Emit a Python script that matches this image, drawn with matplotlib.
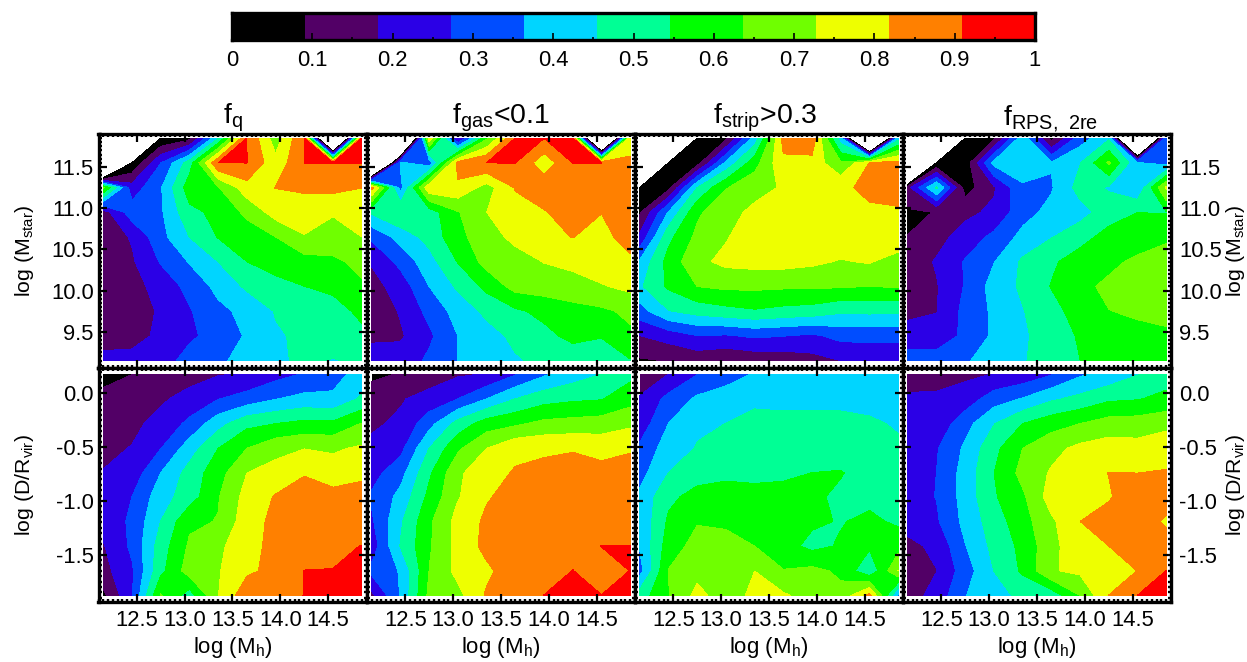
import matplotlib
matplotlib.use('Agg')
import matplotlib.pyplot as plt
import numpy as np
from matplotlib.colors import ListedColormap, BoundaryNorm
from matplotlib.ticker import MultipleLocator

plt.rcParams['font.family'] = ['Liberation Sans', 'DejaVu Sans']
plt.rcParams['mathtext.fontset'] = 'custom'
plt.rcParams['mathtext.rm'] = 'Liberation Sans'
plt.rcParams['mathtext.default'] = 'regular'

mh = [12.15, 12.45, 12.75, 13.05, 13.35, 13.65, 13.95, 14.25, 14.55, 14.85]
mstar = [11.85, 11.55, 11.25, 10.95, 10.65, 10.35, 10.05, 9.75, 9.45, 9.15]
dist = [0.18, -0.05, -0.28, -0.51, -0.74, -0.96, -1.19, -1.42, -1.65, -1.88]

titles = ['$f_{q}$', '$f_{gas}$<0.1', '$f_{strip}$>0.3', '$f_{RPS,\\ 2re}$']
title_x = [0.5, 0.5, 0.485, 0.55]
mh_ticks = [12.5, 13.0, 13.5, 14.0, 14.5]
mstar_ticks = [9.5, 10.0, 10.5, 11.0, 11.5]
dist_ticks = [-1.5, -1.0, -0.5, 0.0]
cbar_ticks = [0, 0.1, 0.2, 0.3, 0.4, 0.5, 0.6, 0.7, 0.8, 0.9, 1]
cbar_labels = ['0', '0.1', '0.2', '0.3', '0.4', '0.5', '0.6', '0.7', '0.8', '0.9', '1']

# empty bins are -1 in the grids, anything below 0 stays white
fq_mstar = [
    [-1, -1, 0, .06, .45, .91, .68, .91, -1, .91],
    [-1, 0, .27, .50, .91, .91, .755, .91, .91, .91],
    [.65, .22, .355, .595, .63, .78, .82, .827, .844, .819],
    [.14, .32, .35, .52, .57, .656, .767, .79, .735, .775],
    [.13, .19, .335, .455, .55, .59, .636, .72, .69, .727],
    [.12, .17, .28, .37, .455, .545, .59, .60, .62, .66],
    [.12, .15, .215, .30, .39, .47, .51, .545, .56, .625],
    [.13, .15, .19, .265, .34, .39, .46, .49, .52, .56],
    [.14, .15, .20, .26, .30, .375, .445, .47, .49, .53],
    [.21, .21, .24, .30, .35, .39, .44, .47, .45, .47],
]
fgas_mstar = [
    [-1, -1, .80, .14, .62, .91, .91, .91, -1, .80],
    [-1, .38, .30, .855, .91, .91, .76, .91, .91, .825],
    [.85, .33, .80, .80, .69, .825, .88, .88, .87, .88],
    [.47, .545, .50, .63, .727, .78, .81, .87, .82, .87],
    [.29, .40, .485, .61, .69, .75, .80, .82, .79, .855],
    [.19, .30, .42, .55, .67, .69, .73, .745, .78, .80],
    [.15, .22, .364, .47, .57, .67, .68, .70, .72, .75],
    [.12, .19, .30, .40, .475, .53, .57, .60, .62, .655],
    [.17, .17, .255, .364, .42, .475, .52, .57, .55, .62],
    [.21, .22, .29, .364, .40, .445, .475, .49, .50, .54],
]
fstrip_mstar = [
    [-1, -1, 0, .07, .40, .85, .88, .40, -1, .42],
    [-1, 0, .05, .38, .60, .80, .79, .645, .82, .85],
    [0, .06, .455, .63, .70, .735, .79, .80, .84, .86],
    [.08, .37, .62, .70, .745, .79, .80, .80, .803, .805],
    [.20, .52, .66, .72, .78, .79, .79, .79, .79, .80],
    [.38, .58, .705, .75, .76, .76, .745, .72, .735, .68],
    [.44, .56, .637, .655, .655, .65, .65, .645, .636, .645],
    [.325, .45, .49, .516, .536, .517, .506, .47, .475, .47],
    [.18, .22, .27, .263, .287, .275, .255, .30, .30, .30],
    [.08, .095, .12, .10, .118, .125, .15, .182, .20, .20],
]
frps_mstar = [
    [-1, -1, 0, .07, .42, .06, .32, .44, -1, .34],
    [-1, 0, .03, .39, .42, .37, .45, .65, .37, .33],
    [.15, .47, .05, .17, .35, .355, .49, .445, .37, .74],
    [.08, .093, .16, .20, .33, .39, .42, .50, .545, .54],
    [.092, .15, .22, .295, .39, .45, .51, .58, .60, .62],
    [.13, .19, .28, .36, .47, .53, .59, .62, .65, .68],
    [.13, .175, .28, .40, .47, .55, .62, .65, .69, .70],
    [.165, .178, .30, .38, .45, .51, .59, .635, .645, .655],
    [.21, .225, .29, .38, .44, .50, .555, .60, .62, .625],
    [.32, .31, .35, .42, .45, .48, .545, .58, .60, .61],
]
fq_dist = [
    [.05, .09, .13, .15, .175, .19, .24, .28, .33, .40],
    [.125, .14, .17, .21, .27, .31, .36, .39, .38, .47],
    [.14, .165, .205, .295, .42, .52, .545, .57, .565, .64],
    [.165, .185, .27, .41, .545, .636, .70, .725, .715, .74],
    [.185, .22, .364, .49, .60, .727, .76, .81, .77, .79],
    [.21, .273, .415, .50, .63, .76, .825, .87, .85, .87],
    [.21, .29, .455, .62, .64, .78, .84, .87, .87, .88],
    [.175, .29, .50, .65, .71, .78, .85, .88, .90, .91],
    [.15, .26, .52, .68, .72, .80, .845, .91, .91, .91],
    [.07, .265, .645, .50, .725, .88, .89, .91, .91, .92],
]
fgas_dist = [
    [.06, .10, .14, .17, .186, .265, .35, .41, .455, .52],
    [.165, .175, .21, .273, .364, .455, .51, .53, .54, .60],
    [.17, .195, .33, .49, .59, .62, .66, .67, .68, .71],
    [.20, .245, .455, .62, .727, .80, .805, .81, .79, .805],
    [.24, .33, .53, .71, .79, .825, .84, .86, .846, .87],
    [.285, .39, .57, .72, .81, .85, .87, .88, .87, .88],
    [.26, .44, .62, .76, .835, .87, .88, .88, .88, .88],
    [.22, .46, .625, .755, .845, .87, .88, .89, .91, .91],
    [.30, .37, .638, .755, .80, .87, .88, .91, .88, .91],
    [.16, .37, .66, .70, .83, .87, .91, .93, .91, .92],
]
fstrip_dist = [
    [.13, .182, .27, .33, .37, .40, .40, .41, .41, .39],
    [.19, .30, .38, .40, .43, .43, .43, .43, .41, .41],
    [.22, .364, .44, .455, .49, .48, .48, .48, .474, .44],
    [.29, .41, .46, .50, .51, .51, .51, .51, .50, .475],
    [.33, .455, .51, .53, .53, .535, .546, .55, .51, .49],
    [.385, .525, .575, .575, .565, .565, .56, .53, .52, .51],
    [.38, .56, .63, .62, .615, .60, .56, .54, .565, .53],
    [.37, .59, .67, .67, .636, .58, .52, .555, .56, .60],
    [.33, .64, .70, .70, .727, .64, .66, .62, .47, .73],
    [.50, .63, .755, .68, .75, .74, .69, .66, .85, .34],
]
frps_dist = [
    [.13, .14, .165, .184, .21, .265, .35, .39, .45, .50],
    [.20, .20, .22, .32, .37, .44, .48, .53, .54, .57],
    [.20, .21, .33, .45, .545, .60, .636, .675, .68, .70],
    [.215, .265, .38, .52, .636, .70, .75, .77, .76, .79],
    [.23, .273, .40, .545, .665, .737, .77, .82, .818, .823],
    [.24, .275, .40, .535, .62, .77, .78, .81, .87, .87],
    [.215, .26, .39, .50, .60, .71, .818, .85, .88, .80],
    [.16, .20, .36, .48, .57, .70, .79, .818, .86, .87],
    [.15, .18, .32, .455, .56, .72, .745, .728, .82, .91],
    [.14, .215, .36, .43, .47, .49, .636, .82, .91, .95],
]

colors = ['#000000', '#520066', '#2b00e6', '#004dff', '#00d5ff', '#00ff95',
          '#00ff00', '#6fff00', '#eeff00', '#ff8000', '#ff0000']
levels = np.linspace(0, 1, 12)
cmap = ListedColormap(colors)
norm = BoundaryNorm(levels, cmap.N)

W, H = 1247, 662
lefts = [98.5, 367, 635, 903]
width = 268
tops = [134, 368]
height = 234
tick_size = 15.8
label_size = 15.3


def make_axes(x0, y0, w, h):
    return fig.add_axes([x0 / W, 1 - (y0 + h) / H, w / W, h / H])


def style_frame(ax):
    for s in ax.spines.values():
        s.set_linewidth(2.4)
    ax.tick_params(which='major', direction='in', top=True, right=True, length=6, width=1.6)
    ax.tick_params(which='minor', direction='in', top=True, right=True, length=2.2, width=1.7)


fig = plt.figure(figsize=(W / 100, H / 100), dpi=100)

grids = [fq_mstar, fgas_mstar, fstrip_mstar, frps_mstar, fq_dist, fgas_dist, fstrip_dist, frps_dist]
for i, grid in enumerate(grids):
    row = i // 4
    col = i % 4
    ax = make_axes(lefts[col], tops[row], width, height)
    yvals = mstar if row == 0 else dist
    ax.contourf(mh, yvals, np.array(grid), levels=levels, cmap=cmap, norm=norm)
    ax.set_xlim(12.1, 14.9)
    ax.set_xticks(mh_ticks)
    ax.xaxis.set_minor_locator(MultipleLocator(0.05))
    if row == 0:
        ax.set_ylim(9.06, 11.9)
        ax.set_yticks(mstar_ticks)
        ax.set_title(titles[col], fontsize=20.5, pad=5, x=title_x[col])
        ax.set_xticklabels([])
    else:
        ax.set_ylim(-1.94, 0.237)
        ax.set_yticks(dist_ticks)
        ax.set_xticklabels(['%.1f' % t for t in mh_ticks], fontsize=tick_size)
        ax.set_xlabel('log ($M_{h}$)', fontsize=16, labelpad=3)
    ax.yaxis.set_minor_locator(MultipleLocator(0.05))
    style_frame(ax)
    ax.tick_params(axis='x', which='major', pad=6)
    ylabel = 'log ($M_{star}$)' if row == 0 else 'log (D/$R_{vir}$)'
    ytick_text = ['%.1f' % t for t in (mstar_ticks if row == 0 else dist_ticks)]
    if col == 0:
        ax.set_yticklabels(ytick_text, fontsize=tick_size)
        ax.set_ylabel(ylabel, fontsize=label_size)
        ax.yaxis.set_label_coords(-0.232, 0.5)
    elif col == 3:
        ax.yaxis.set_label_position('right')
        ax.tick_params(axis='y', which='major', labelleft=False, labelright=True, pad=6)
        ax.set_yticklabels(ytick_text, fontsize=tick_size)
        ax.set_ylabel(ylabel, fontsize=label_size)
        ax.yaxis.set_label_coords(1.198, 0.5)
    else:
        ax.set_yticklabels([])

# colour bar along the top
cax = make_axes(232, 13, 803, 27)
cax.pcolormesh(levels, [0, 1], np.array([levels[:-1] + 0.01]), cmap=cmap, norm=norm)
cax.set_xlim(0, 1)
cax.set_ylim(0, 1)
cax.set_yticks([])
cax.set_xticks(cbar_ticks)
cax.set_xticklabels(cbar_labels, fontsize=tick_size)
cax.xaxis.set_minor_locator(MultipleLocator(0.05))
for s in cax.spines.values():
    s.set_linewidth(2.4)
cax.tick_params(which='major', direction='in', length=5, width=1.2, pad=7)
cax.tick_params(which='minor', direction='in', length=2.5, width=1.2)

fig.savefig('out.png', dpi=100)
